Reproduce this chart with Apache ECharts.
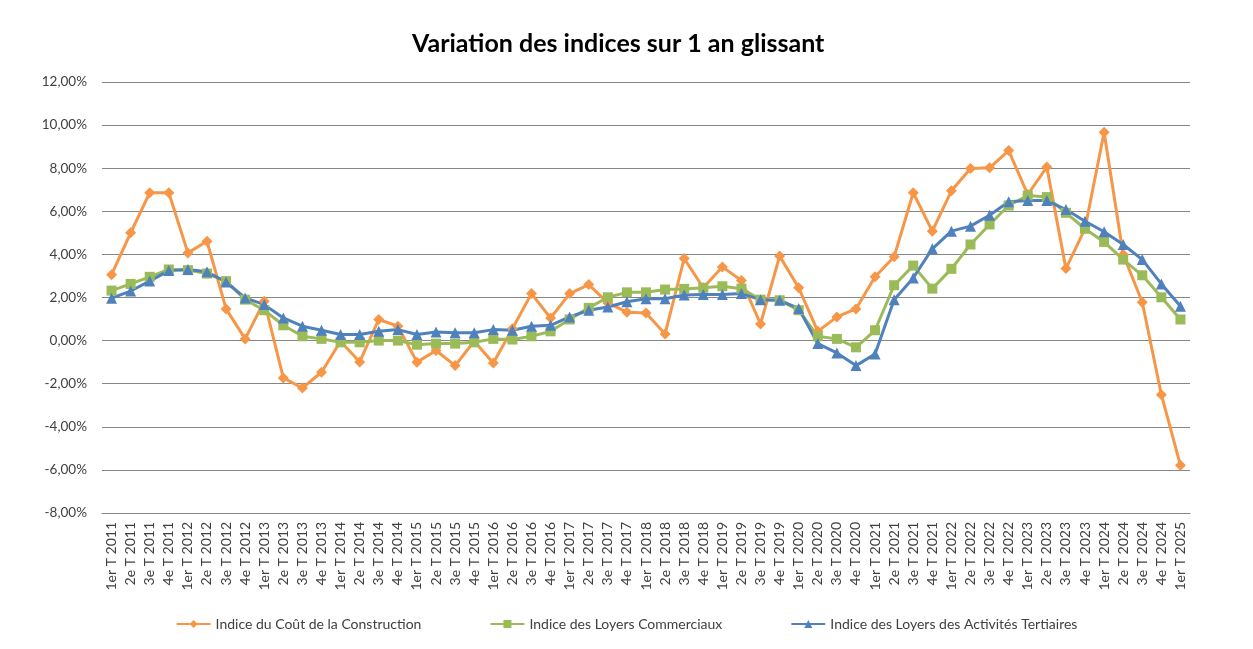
<!DOCTYPE html>
<html>
<head>
<meta charset="utf-8">
<script src="https://cdn.jsdelivr.net/npm/echarts@6/dist/echarts.min.js"></script>
<style>html,body{margin:0;padding:0;background:#fff}#c{width:1253px;height:649px}</style>
</head>
<body>
<div id="c"></div>
<script>
const years = [2011,2012,2013,2014,2015,2016,2017,2018,2019,2020,2021,2022,2023,2024];
const quarterNames = ['1er T','2e T','3e T','4e T'];
const categories = [];
years.forEach(y => quarterNames.forEach(q => categories.push(q + ' ' + y)));
categories.push('1er T 2025');

const icc = [3.06,5.0,6.86,6.86,4.07,4.61,1.47,0.08,1.83,-1.73,-2.2,-1.47,-0.03,-0.99,0.98,0.67,
  -1.0,-0.46,-1.16,-0.03,-1.04,0.55,2.18,1.05,2.18,2.6,1.75,1.32,1.28,0.31,3.81,2.45,
  3.42,2.79,0.77,3.92,2.45,0.43,1.1,1.47,2.96,3.89,6.86,5.08,6.95,7.99,8.02,8.82,
  6.78,8.05,3.34,5.2,9.67,4.0,1.78,-2.51,-5.79];
const ilc = [2.32,2.63,2.96,3.3,3.27,3.11,2.76,1.9,1.41,0.71,0.2,0.08,-0.08,-0.08,0.0,0.0,
  -0.19,-0.14,-0.14,-0.08,0.08,0.05,0.2,0.43,0.98,1.52,2.01,2.24,2.24,2.37,2.4,2.45,
  2.52,2.41,1.9,1.87,1.41,0.2,0.08,-0.31,0.48,2.57,3.48,2.41,3.33,4.46,5.39,6.27,
  6.73,6.66,5.93,5.19,4.58,3.76,3.03,2.01,0.98];
const ilat = [1.97,2.3,2.76,3.25,3.3,3.19,2.72,1.98,1.67,1.05,0.67,0.48,0.28,0.28,0.43,0.51,
  0.28,0.4,0.36,0.36,0.51,0.48,0.67,0.71,1.1,1.41,1.56,1.8,1.94,1.94,2.12,2.14,
  2.14,2.18,1.9,1.87,1.49,-0.14,-0.57,-1.16,-0.62,1.9,2.91,4.26,5.08,5.31,5.82,6.44,
  6.5,6.5,6.08,5.54,5.05,4.46,3.76,2.63,1.59];
const seriesNames = ['Indice du Coût de la Construction','Indice des Loyers Commerciaux','Indice des Loyers des Activités Tertiaires'];

const font = 'Lato, "Open Sans", "Liberation Sans", sans-serif';
const chart = echarts.init(document.getElementById('c'), null, {renderer:'canvas'});
function mk(name, data, color, symbol, size) {
  return {
    name, type:'line', data, symbol, symbolSize:size,
    lineStyle:{color, width:3},
    itemStyle:{color},
    emphasis:{disabled:true},
    animation:false
  };
}
chart.setOption({
  animation:false,
  backgroundColor:'#fff',
  textStyle:{fontFamily:font},
  title:{
    text:'Variation des indices sur 1 an glissant',
    left:407, top:26,
    textStyle:{fontFamily:font, fontSize:25, fontWeight:'bold', color:'#000'}
  },
  legend:{
    bottom:13, left:'center',
    itemWidth:34, itemHeight:10, itemGap:68,
    textStyle:{fontFamily:font, fontSize:14, color:'#404040'},
    data:seriesNames
  },
  grid:{left:102, right:63, top:82, bottom:136},
  xAxis:{
    type:'category', data:categories, boundaryGap:true,
    axisLine:{show:true, onZero:false, lineStyle:{color:'#868686'}},
    axisTick:{show:false},
    axisLabel:{rotate:90, interval:0, fontSize:14, color:'#404040', margin:9, fontFamily:font}
  },
  yAxis:{
    type:'value', min:-8, max:12, interval:2,
    axisLine:{show:false}, axisTick:{show:false},
    splitLine:{lineStyle:{color:'#868686', width:1}},
    axisLabel:{fontSize:13.5, color:'#404040', margin:15, fontFamily:font,
      formatter:v => v.toFixed(2).replace('.', ',') + '%'}
  },
  series:[
    mk(seriesNames[0], icc, '#F79646', 'diamond', 11),
    mk(seriesNames[1], ilc, '#9BBB59', 'rect', 10),
    mk(seriesNames[2], ilat, '#4F81BD', 'triangle', 11)
  ]
});
</script>
</body>
</html>
